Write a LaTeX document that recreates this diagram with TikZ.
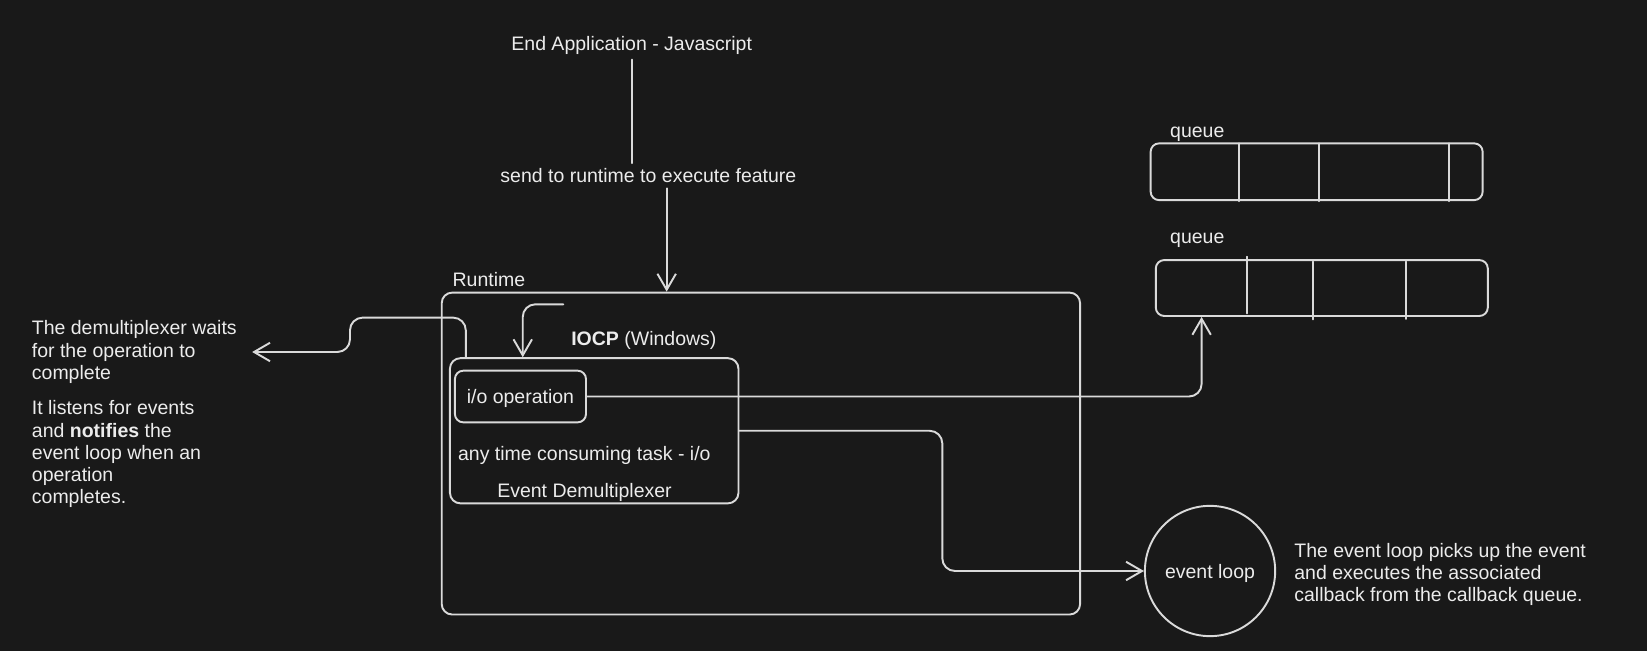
\documentclass[tikz,border=0pt]{standalone}
\usepackage{fontspec}
\setmainfont{Liberation Sans}
\usetikzlibrary{arrows.meta}
\definecolor{exbg}{RGB}{25,25,25}
\definecolor{exline}{RGB}{218,218,218}
\definecolor{extext}{RGB}{236,236,236}

\begin{document}
\begin{tikzpicture}[x=0.025cm, y=-0.025cm,
  every node/.style={font=\fontsize{13.2}{15}\selectfont, text=extext},
  box/.style={draw=exline, line width=1.3pt, rounded corners=0.25cm},
  note/.style={inner sep=0pt, align=left},
  wire/.style={draw=exline, line width=1.3pt, line cap=round},
  arr/.style={wire, line join=round,
              -{Straight Barb[length=0.38cm, width=0.44cm]}}]
  % Background
  \fill[exbg] (0,0) rectangle (1568,620);

  % Application and request
  \node (app) at (601.4,43.2) {End Application - Javascript};
  \node (send) at (617.3,167) {send to runtime to execute feature};

  % Runtime with the event demultiplexer
  \node[box, minimum width=15.19cm, minimum height=7.66cm] (runtime) at (724.4,431.8) {};
  \node[note, anchor=west] (runlbl) at (430.6,266) {Runtime};
  \node[box, minimum width=6.865cm, minimum height=3.455cm] (iocp) at (565.7,410.1) {};
  \node (iocplbl) at (613,324.3) {\textbf{IOCP} (Windows)};
  \node[box, rounded corners=0.2cm, minimum width=3.12cm, minimum height=1.23cm,
    text depth=0pt] (iobox) at (495.5,377.5) {i/o operation};
  \node (task) at (556.3,433.3) {any time consuming task - i/o};
  \node (demux) at (556.5,468.7) {Event Demultiplexer};

  % Two queues with their slots
  \node[box, rounded corners=0.2cm, minimum width=7.9cm, minimum height=1.35cm]
    (qone) at (1253.5,163.5) {};
  \node[note, anchor=west] (qonelbl) at (1113.8,128) {queue};
  \foreach \x in {1179.8,1256,1379.2}
    \draw[wire] (\x,136.5) -- (\x,191.5);
  \node[box, rounded corners=0.2cm, minimum width=7.9cm, minimum height=1.33cm]
    (qtwo) at (1258.4,274.2) {};
  \node[note, anchor=west] (qtwolbl) at (1113.8,229) {queue};
  \foreach \x/\a/\b in {1186.9/244.4/298.3, 1250.3/249/304, 1338.5/249/303.5}
    \draw[wire] (\x,\a) -- (\x,\b);

  % Event loop
  \node[circle, draw=exline, line width=1.3pt, minimum size=3.1cm, inner sep=0pt,
    text depth=0pt] (loop) at (1152,543.6) {event loop};
  \node[note, anchor=base west] (loopnote) at (1232,572.6)
    {The event loop picks up the event\\and executes the associated\\callback from the callback queue.};

  % Notes on the left
  \node[note, anchor=base west] (waitnote) at (30.1,361)
    {The demultiplexer waits\\for the operation to\\complete};
  \node[note, anchor=base west] (listennote) at (30.1,479.4)
    {It listens for events\\and \textbf{notifies} the\\event loop when an\\operation\\completes.};

  % Connectors
  \draw[wire] (app.south) -- (app.south |- send.north);
  \coordinate (sendout) at (634.7,179.3);
  \draw[arr] (sendout) -- (sendout |- runtime.north);
  \coordinate (iocpin) at (536.3,289.7);
  \draw[arr, rounded corners=0.3cm] (iocpin) -| ([xshift=-1.7cm]iocp.north);
  \coordinate (waitbend) at (333.2,302.4);
  \draw[arr, rounded corners=0.3cm] ([xshift=0.4cm]iocp.north west)
    |- (waitbend) |- ([xshift=0.36cm]waitnote.east);
  \draw[arr, rounded corners=0.3cm] (iobox.east) -| ([xshift=-2.86cm]qtwo.south);
  \coordinate (loopturn) at (897.1,480);
  \draw[arr, rounded corners=0.3cm] (iocp.east) -| (loopturn) |- (loop.west);
\end{tikzpicture}
\end{document}
